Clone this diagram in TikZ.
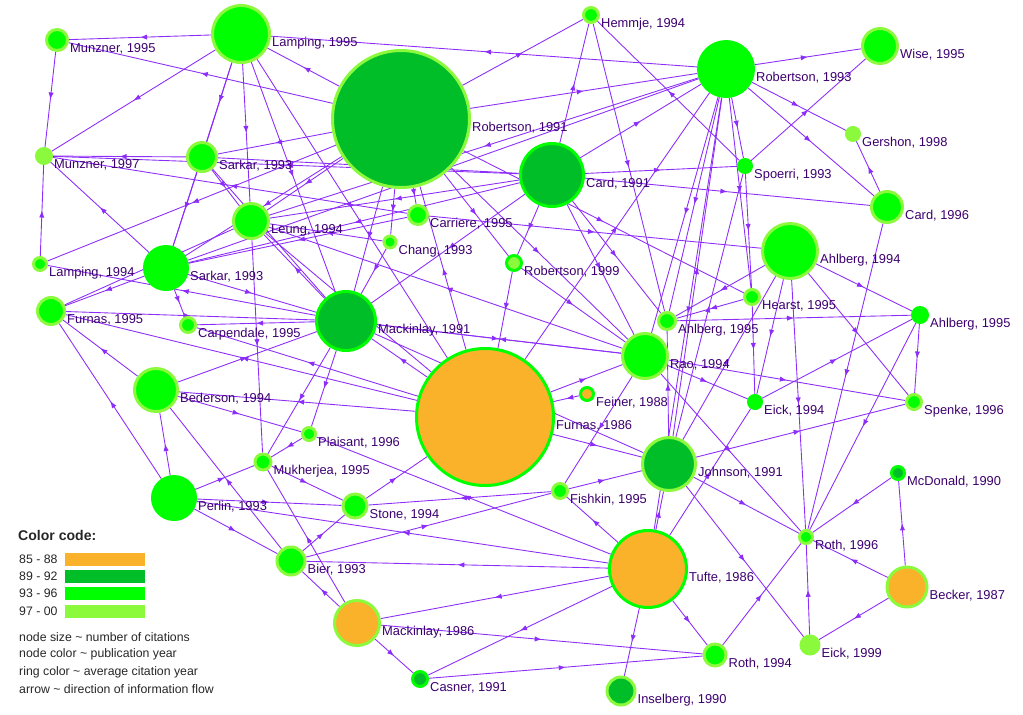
\documentclass[tikz,border=0pt]{standalone}
\usepackage{fontspec}
\setmainfont{Liberation Sans}
\usepackage{tikz}
\usetikzlibrary{arrows.meta,decorations.markings,backgrounds,calc}

\definecolor{cOrange}{RGB}{250,178,42}
\definecolor{cDark}{RGB}{0,190,40}
\definecolor{cBright}{RGB}{0,255,0}
\definecolor{cLight}{RGB}{140,250,60}
\definecolor{cEdge}{RGB}{140,45,250}
\definecolor{cText}{RGB}{60,0,110}

\begin{document}
\begin{tikzpicture}[x=0.03cm, y=-0.03cm]
\tikzset{
	paper/.style n args = {3}{circle, inner sep = 0, fill = #1, draw = #2, line width = 0.09cm, minimum size = {(#3-3)*0.03cm}},
	paper label/.style = {anchor = west, inner sep = 0, text = cText, font = \fontsize{11}{13}\selectfont},
	flow/.style = {draw = cEdge, line width = 0.75pt, postaction = {decorate},
		decoration = {markings, mark = at position 0.5 with {\arrow{Latex[length=6pt,width=4.5pt]}}}},
	key text/.style = {anchor = west, inner sep = 0, text = black!85, font = \fontsize{10.5}{12}\selectfont},
	swatch/.style = {rectangle, inner sep = 0, minimum width = 2.4cm, minimum height = 0.39cm},
}
\useasboundingbox (0,0) rectangle (1023,714);

% papers: name/x/y/diameter/fill/ring/label
\foreach \n/\x/\y/\d/\f/\r/\t in {
	munzner95/57/40/24/cBright/cLight/{Munzner, 1995},
	lamping95/241/34/60/cBright/cLight/{Lamping, 1995},
	rob91/401/119/140/cDark/cLight/{Robertson, 1991},
	hemmje94/591/15/18/cBright/cLight/{Hemmje, 1994},
	card91/552/175/66/cDark/cBright/{Card, 1991},
	carriere95/418/215/22/cBright/cLight/{Carriere, 1995},
	rob93/726/69/58/cBright/cBright/{Robertson, 1993},
	wise95/880/46/38/cBright/cLight/{Wise, 1995},
	gershon98/853/134/16/cLight/cLight/{Gershon, 1998},
	spoerri93/745/166/16/cBright/cBright/{Spoerri, 1993},
	card96/887/207/34/cBright/cLight/{Card, 1996},
	munzner97/44/156/18/cLight/cLight/{Munzner, 1997},
	sarkar93a/202/157/32/cBright/cLight/{Sarkar, 1993},
	leung94/251/221/38/cBright/cLight/{Leung, 1994},
	chang93/390/242/15/cBright/cLight/{Chang, 1993},
	lamping94/40/264/16/cBright/cLight/{Lamping, 1994},
	sarkar93b/166/268/46/cBright/cBright/{Sarkar, 1993},
	furnas95/51/311/30/cBright/cLight/{Furnas, 1995},
	carpendale95/188/325/18/cBright/cLight/{Carpendale, 1995},
	mackinlay91/346/321/62/cDark/cBright/{Mackinlay, 1991},
	rob99/514/263/18/cLight/cBright/{Robertson, 1999},
	ahlberg94/790/251/58/cBright/cLight/{Ahlberg, 1994},
	hearst95/752/297/18/cBright/cLight/{Hearst, 1995},
	ahlberg95a/920/315/18/cBright/cBright/{Ahlberg, 1995},
	ahlberg95b/667/321/20/cBright/cLight/{Ahlberg, 1995},
	rao94/645/356/48/cBright/cLight/{Rao, 1994},
	bederson94/156/390/46/cBright/cLight/{Bederson, 1994},
	furnas86/485/417/140/cOrange/cBright/{Furnas, 1986},
	feiner88/587/394/16/cOrange/cBright/{Feiner, 1988},
	eick94/755/402/16/cBright/cBright/{Eick, 1994},
	spenke96/914/402/18/cBright/cLight/{Spenke, 1996},
	plaisant96/309/434/16/cBright/cLight/{Plaisant, 1996},
	mukherjea95/263/462/19/cBright/cLight/{Mukherjea, 1995},
	johnson91/669/464/56/cDark/cLight/{Johnson, 1991},
	mcdonald90/898/473/16/cDark/cBright/{McDonald, 1990},
	perlin93/174/498/46/cBright/cBright/{Perlin, 1993},
	stone94/355/506/27/cBright/cLight/{Stone, 1994},
	fishkin95/560/491/18/cBright/cLight/{Fishkin, 1995},
	bier93/291/561/31/cBright/cLight/{Bier, 1993},
	roth96/806/537/16/cBright/cLight/{Roth, 1996},
	tufte86/648/569/80/cOrange/cBright/{Tufte, 1986},
	becker87/907/587/43/cOrange/cLight/{Becker, 1987},
	mackinlay86/357/623/48/cOrange/cLight/{Mackinlay, 1986},
	eick99/810/645/21/cLight/cLight/{Eick, 1999},
	roth94/715/655/25/cBright/cLight/{Roth, 1994},
	casner91/420/679/18/cDark/cBright/{Casner, 1991},
	inselberg90/621/691/31/cDark/cLight/{Inselberg, 1990}}{
	\node[paper={\f}{\r}{\d}] (\n) at (\x,\y) {};
	\node[paper label] (\n-l) at ({\x+\d/2+1},{\y+9}) {\t};
}

% citations
\begin{scope}[on background layer]
\foreach \a/\b in {
	lamping95/munzner95, munzner95/munzner97, lamping95/munzner97, sarkar93a/munzner97,
	lamping94/munzner97, sarkar93b/munzner97, card91/munzner97, carriere95/munzner97,
	rob91/lamping95, rob91/munzner95, rob93/lamping95, rob91/hemmje94, rob91/rob93,
	card91/hemmje94, spoerri93/hemmje94, hemmje94/ahlberg95b,
	rob93/wise95, rob93/gershon98, rob93/card96, spoerri93/wise95, card96/gershon98,
	rob93/spoerri93, card91/spoerri93, card91/card96, card91/rob93,
	card96/roth96, ahlberg95a/roth96, ahlberg94/ahlberg95a, ahlberg95a/spenke96,
	ahlberg94/spenke96, ahlberg95b/ahlberg95a, eick94/ahlberg95a, rao94/spenke96,
	johnson91/spenke96, ahlberg94/ahlberg95b, ahlberg94/eick94, rob93/hearst95,
	spoerri93/hearst95, carriere95/ahlberg94,
	sarkar93b/furnas95, leung94/furnas95, sarkar93b/carpendale95, furnas95/mackinlay91,
	mackinlay91/carpendale95, perlin93/furnas95, bederson94/furnas95, bederson94/mackinlay91,
	perlin93/bederson94, bier93/bederson94, perlin93/bier93, perlin93/mukherjea95,
	bier93/stone94, mackinlay86/mukherjea95, bier93/fishkin95, stone94/furnas86,
	fishkin95/stone94, perlin93/stone94,
	tufte86/perlin93, tufte86/bier93, tufte86/mackinlay86, tufte86/casner91,
	tufte86/inselberg90, tufte86/roth94, tufte86/johnson91, tufte86/fishkin95,
	tufte86/plaisant96, tufte86/eick94,
	mackinlay86/casner91, mackinlay86/roth94, mackinlay86/bier93, casner91/roth94,
	roth94/roth96, johnson91/eick99, becker87/roth96, becker87/eick99, becker87/mcdonald90,
	mcdonald90/roth96, johnson91/roth96, eick99/roth96, ahlberg94/roth96, rao94/roth96,
	rao94/eick94,
	fishkin95/johnson91, rao94/fishkin95, furnas86/rao94, feiner88/furnas86,
	furnas86/johnson91, rob99/furnas86, card91/rob99, furnas86/mackinlay91,
	mackinlay91/leung94, furnas86/leung94, sarkar93b/mackinlay91, furnas86/carpendale95,
	furnas86/bederson94, bederson94/plaisant96, mackinlay91/plaisant96,
	mackinlay91/mukherjea95, leung94/mukherjea95, plaisant96/mukherjea95, mukherjea95/stone94,
	johnson91/rob93, johnson91/ahlberg94, johnson91/ahlberg95b, johnson91/spoerri93,
	rao94/leung94, rao94/mackinlay91,
	rob93/leung94, rob93/sarkar93b, rob93/tufte86, rob93/ahlberg95b, rob93/rao94,
	card91/ahlberg95b, card91/rao94, card91/leung94, card91/sarkar93a, card91/sarkar93b,
	card91/mackinlay91,
	hearst95/eick94, hearst95/ahlberg95b,
	lamping95/leung94, lamping95/sarkar93a, lamping95/sarkar93b, lamping95/mackinlay91,
	lamping95/furnas86,
	sarkar93a/sarkar93b, sarkar93a/leung94, sarkar93a/mackinlay91,
	rob91/sarkar93a, rob91/leung94, rob91/sarkar93b, rob91/mackinlay91, rob91/carriere95,
	rob91/chang93, rob91/hearst95, furnas86/rob91, rob91/rob99, rob91/rao94,
	rob91/lamping94, mackinlay91/lamping94, furnas86/furnas95,
	chang93/mackinlay91, carriere95/sarkar93b, chang93/leung94, furnas86/rob93,
	mackinlay91/johnson91, rob99/rao94, mackinlay91/rao94}
	\draw[flow] (\a) -- (\b);
\end{scope}

% legend
\node[anchor = west, inner sep = 0, text = black!85, font = \fontsize{12}{14}\selectfont\bfseries] (key) at (18,535) {Color code:};
\foreach \y/\c/\t [count = \i] in {559/cOrange/85 - 88, 576/cDark/89 - 92, 593/cBright/93 - 96, 611/cLight/97 - 00}{
	\node[key text] (range\i) at (19,\y) {\t};
	\node[swatch, fill = \c] (swatch\i) at (105,\y) {};
}
\foreach \y/\t [count = \i] in {637/node size \textasciitilde{} number of citations,
	654/node color \textasciitilde{} publication year,
	672/ring color \textasciitilde{} average citation year,
	689/arrow \textasciitilde{} direction of information flow}
	\node[key text] (note\i) at (19,\y) {\t};

\end{tikzpicture}
\end{document}
